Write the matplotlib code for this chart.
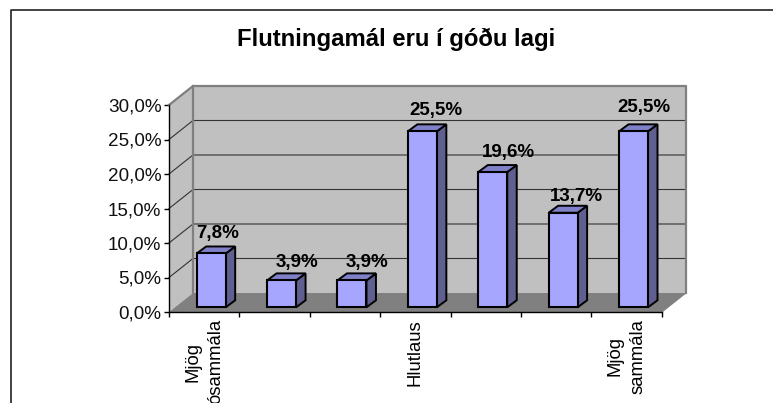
#!/usr/bin/env python

"""3D-look column chart: Flutningamál eru í góðu lagi."""

import matplotlib
matplotlib.use("Agg")
import matplotlib.pyplot as plt
from matplotlib.patches import Polygon

plt.rcParams["font.family"] = ["Liberation Sans", "DejaVu Sans"]

title = "Flutningamál eru í góðu lagi"
categories = ["Mjög\nósammála", "", "", "Hlutlaus", "", "", "Mjög\nsammála"]
values = [7.8, 3.9, 3.9, 25.5, 19.6, 13.7, 25.5]
yticks = [0, 5, 10, 15, 20, 25, 30]

W, H = 773, 403
fig = plt.figure(figsize=(W / 100, H / 100), dpi=100)

# the front plane of the fake 3D box is the axes
ax = fig.add_axes([169 / W, (H - 312) / H, 492.7 / W, 207 / H])
ax.set_xlim(0, len(values))
ax.set_ylim(0, 30)
ax.patch.set_visible(False)

n = len(values)
dx = 24 / 70.4   # box depth in x units
dy = 19 / 6.9    # box depth in y units


def poly(pts, fc, ec="none", lw=0, z=1):
    ax.add_patch(Polygon(pts, closed=True, fc=fc, ec=ec, lw=lw, zorder=z,
                         clip_on=False, joinstyle="miter"))


# walls and floor
poly([(0, 0), (dx, dy), (dx, 30 + dy), (0, 30)], "#c0c0c0")
poly([(dx, dy), (n + dx, dy), (n + dx, 30 + dy), (dx, 30 + dy)], "#c0c0c0")
poly([(0, 0), (n, 0), (n + dx, dy), (dx, dy)], "#808080")

# grid lines
for t in yticks[1:-1]:
    ax.plot([0, dx, n + dx], [t, t + dy, t + dy], color="#333333", lw=0.8,
            zorder=2, clip_on=False)
ax.plot([0, dx], [30, 30 + dy], color="#808080", lw=1.6, zorder=2, clip_on=False)
ax.plot([dx, dx, n + dx, n + dx], [dy, 30 + dy, 30 + dy, dy], color="#808080",
        lw=1.6, zorder=2, clip_on=False)
ax.plot([n, n + dx], [0, dy], color="#808080", lw=1.0, zorder=2, clip_on=False)

# bars
bar_w = 29 / 70.4
bdx = 9.5 / 70.4
bdy = 7 / 6.9
x0 = 27.7 / 70.4
base = 4.7 / 6.9
# label nudges in pixels, the original placed them unevenly
nudge_x = [21.3, 29.7, 29.7, 28, 30, 28, 25]
nudge_y = [13, 10.7, 10.7, 14, 12.3, 9, 17]
for i, v in enumerate(values):
    l = i + x0
    r = l + bar_w
    top = v + base
    poly([(r, base), (r + bdx, base + bdy), (r + bdx, top + bdy), (r, top)],
         "#606090", "black", 1.4, 3)
    poly([(l, top), (r, top), (r + bdx, top + bdy), (l + bdx, top + bdy)],
         "#8080c8", "black", 1.4, 3)
    poly([(l, base), (r, base), (r, top), (l, top)], "#a6a6ff", "black", 1.5, 4)
    ax.annotate(f"{v:.1f}%".replace(".", ","), (l, top + bdy),
                xytext=(nudge_x[i] * 0.72, nudge_y[i] * 0.72),
                textcoords="offset points", ha="center", va="center",
                fontsize=13.5, fontweight="bold", color="black", zorder=5,
                annotation_clip=False)

for s in ["top", "right"]:
    ax.spines[s].set_visible(False)
for s in ["left", "bottom"]:
    ax.spines[s].set_linewidth(1.0)
    ax.spines[s].set_zorder(6)

ax.set_yticks(yticks)
ax.set_yticklabels([f"{t},0%" for t in yticks], fontsize=13.6, color="#111111")
ax.set_xticks(range(n + 1))
ax.set_xticklabels([])
ax.tick_params(axis="both", length=3.5, width=1.0, pad=2)

# category labels sit between the ticks, rotated and clipped by the page edge
for i, c in enumerate(categories):
    if c:
        ax.annotate(c, (i + 0.5, 0), xytext=(0, -5), textcoords="offset points",
                    rotation=90, ha="center", va="top", fontsize=13.3,
                    multialignment="center", linespacing=1.4,
                    annotation_clip=False)

fig.text(396 / W, (H - 39) / H, title, ha="center", va="center", fontsize=17.2,
         fontweight="bold")

# outer chart border
fig.add_artist(plt.Line2D([11 / W, 11 / W, 1], [0, (H - 10) / H, (H - 10) / H],
                          color="#222222", lw=1.2))

fig.savefig("out.png", dpi=100)
